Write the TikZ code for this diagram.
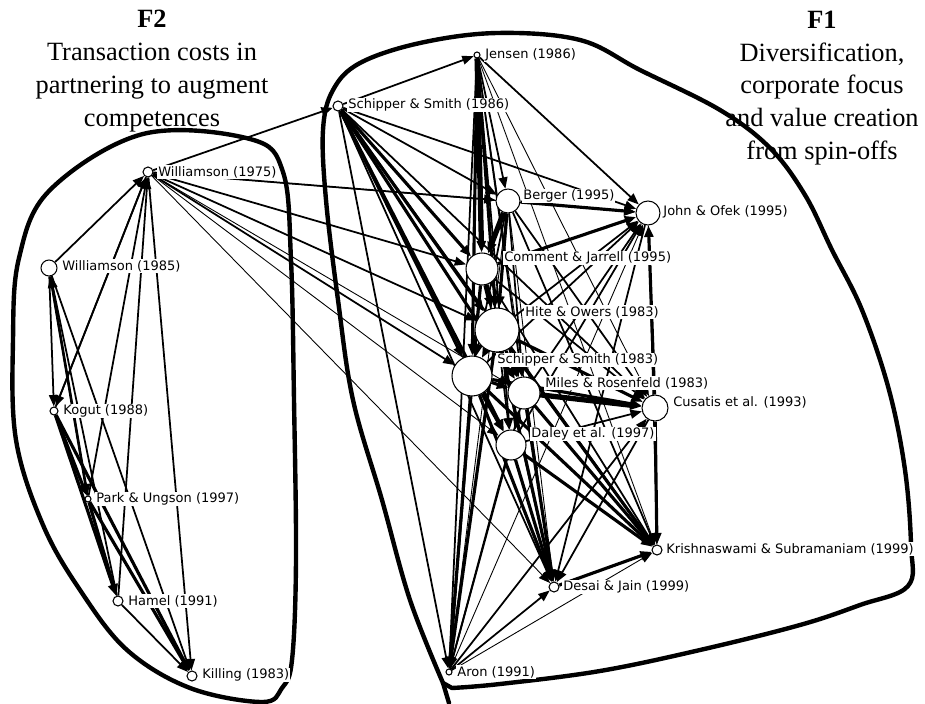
\documentclass[tikz,border=0pt]{standalone}
\usepackage{fontspec}
\setmainfont{Liberation Serif}
\newfontfamily\tagfont{DejaVu Sans}
\usetikzlibrary{arrows.meta, backgrounds}

\begin{document}
\begin{tikzpicture}[x=0.2mm, y=-0.2mm, >={Triangle[length=6.5pt, width=5pt]},
      paper/.style={circle, draw, fill=white, line width=0.6pt, inner sep=0pt},
      tag/.style={anchor=west, fill=white, inner sep=0.6pt,
                  font=\tagfont\fontsize{7.4}{8.8}\selectfont},
      heading/.style={align=center, font=\fontsize{15}{18.7}\selectfont},
      hull/.style={line width=2.5pt, line join=round, line cap=round},
      tie/.style={->, line width=#1}]
  \useasboundingbox (0,0) rectangle (925,704);

  \node[heading] (f2) at (152,71)
    {\textbf{F2}\\ Transaction costs in\\ partnering to augment\\ competences};
  \node[heading] (f1) at (822,88)
    {\textbf{F1}\\ Diversification,\\ corporate focus\\ and value creation\\ from spin-offs};

  % papers: name / x / y / radius
  \foreach \n/\x/\y/\r in {w75/148/172/5, w85/49/268/8, kogut/54/411/4,
      park/88/499/3, hamel/118/601/5, killing/192/676/5,
      jen/477/55/3, ss86/338/106/5, ber/508/201/12, jo/648/213/12,
      cj/482/269/16, ho/497/330/22, ss83/472/376/20, mr/524/393/16,
      cus/655/408/13, dal/511/445/15, kri/657/550/5, des/554/587/5, aron/449/672/3}
    \node[paper, minimum size=\r*0.4mm] (\n) at (\x,\y) {};

  \foreach \n/\x/\y/\t in {w75/157/172/Williamson (1975), w85/61/266/Williamson (1985),
      kogut/62/411/Kogut (1988), park/95/499/Park \& Ungson (1997),
      hamel/127/601/Hamel (1991), killing/201/675/Killing (1983),
      jen/484/55/Jensen (1986), ss86/347/105/Schipper \& Smith (1986),
      ber/522/196/Berger (1995), jo/662/212/John \& Ofek (1995),
      cj/503/258/Comment \& Jarrell (1995), ho/524/312/Hite \& Owers (1983),
      ss83/496/360/Schipper \& Smith (1983), mr/544/383/Miles \& Rosenfeld (1983),
      cus/672/402/Cusatis et al. (1993), dal/530/434/Daley et al. (1997),
      kri/665/549/Krishnaswami \& Subramaniam (1999), des/562/587/Desai \& Jain (1999),
      aron/456/672/Aron (1991)}
    \node[tag] (\n-t) at (\x,\y) {\t};

  \begin{scope}[on background layer]
    \draw[hull] plot[smooth cycle, tension=0.6] coordinates {(143,134) (250,139)
      (283,172) (291,260) (294,400) (296,560) (292,660) (282,688) (262,702)
      (190,688) (127,650) (80,590) (43,525) (16,440) (13,340) (19,258) (50,190)};
    \draw[hull] plot[smooth, tension=0.6] coordinates {(443,683) (410,600)
      (382,500) (353,400) (338,300) (326,200) (323,130) (333,90) (360,63)
      (420,43) (497,33) (580,40) (640,70) (720,110) (770,148) (805,195)
      (832,250) (862,310) (889,390) (905,470) (911,545) (908,586) (860,605)
      (800,625) (700,650) (600,671) (500,684) (452,688)} -- cycle;
    \draw[hull] (443,683) -- (449,703);

    % F2 citations
    \foreach \a/\b/\w in {w85/w75/1.0, kogut/w75/1.0, park/w75/1.0, hamel/w75/1.0,
        w75/killing/1.0, w75/kogut/1.0, w85/kogut/1.0, park/w85/1.0, hamel/w85/1.0,
        w85/killing/1.0, w85/park/1.5, kogut/park/1.8, kogut/hamel/1.8,
        kogut/killing/1.8, park/hamel/1.8, park/killing/1.8, hamel/killing/1.0}
      \draw[tie=\w pt] (\a) -- (\b);

    % F1 citations
    \foreach \a/\b/\w in {ss86/jen/1.0, w75/ss86/1.0, w75/ber/1.0, w75/jo/0.5,
        w75/cj/1.0, w75/ho/1.0, w75/ss83/1.0, w75/mr/0.5, w75/dal/0.5, w75/des/0.5,
        ss86/ber/1.0, ss86/jo/1.0, ss86/cj/1.8, ss86/ho/1.8, ss86/ss83/1.8,
        ss86/mr/1.8, ss86/dal/1.8, ss86/cus/1.0, ss86/kri/1.0, ss86/des/1.0,
        ss86/aron/1.0,
        jen/ber/1.0, jen/jo/1.0, jen/cj/3.0, jen/ho/1.8, jen/ss83/1.8, jen/mr/1.0,
        jen/dal/1.0, jen/cus/0.5, jen/kri/0.5, jen/des/0.5, jen/aron/1.0,
        ber/jo/1.8, ber/cj/3.0, ber/ho/1.8, ber/ss83/1.0, ber/mr/1.0, ber/cus/1.0,
        ber/kri/1.0, ber/des/0.5, ber/aron/0.5,
        cj/jo/1.8, ho/jo/1.0, ss83/jo/1.0, mr/jo/1.0, dal/jo/1.0, cus/jo/1.8,
        cj/ho/3.0, ho/ss83/3.0, cj/ss83/1.8, ss83/mr/1.8, ho/mr/1.8, ss83/dal/1.8,
        mr/dal/1.0, ho/dal/1.0, cj/mr/1.0,
        mr/cus/3.0, ho/cus/1.8, ss83/cus/1.8, cj/cus/1.0, dal/cus/1.0,
        cj/kri/1.0, ho/kri/1.8, ss83/kri/1.8, mr/kri/1.8, dal/kri/1.8, cus/kri/1.8,
        jo/kri/0.5, des/kri/1.8, aron/kri/0.5,
        ss83/des/1.8, ho/des/1.8, mr/des/1.8, dal/des/1.8, cj/des/1.0, cus/des/1.0,
        jo/des/1.0, aron/des/1.0,
        ss83/aron/1.8, ho/aron/1.8, cj/aron/1.0, dal/aron/1.0,
        aron/mr/1.0, aron/cus/1.0, aron/jo/0.5}
      \draw[tie=\w pt] (\a) -- (\b);
  \end{scope}
\end{tikzpicture}
\end{document}
